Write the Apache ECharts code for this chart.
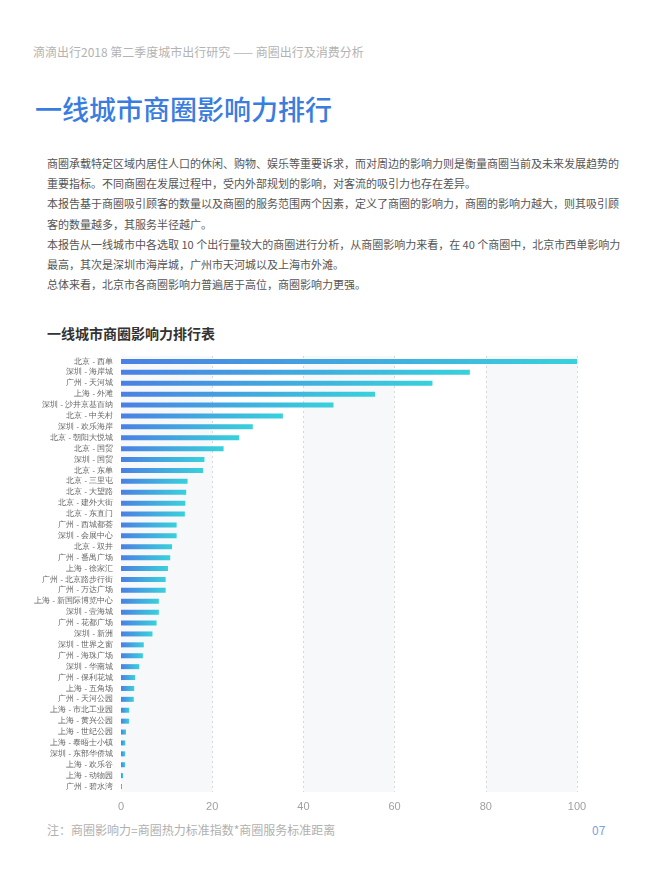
<!DOCTYPE html>
<html>
<head>
<meta charset="utf-8">
<script src="https://cdn.jsdelivr.net/npm/echarts@6/dist/echarts.min.js"></script>
<style>
  body { margin: 0; background: #fff; font-family: "Noto Sans CJK SC", "Noto Sans", sans-serif; }
  .page { position: relative; width: 650px; height: 882px; overflow: hidden; }
  .head { position: absolute; left: 33px; top: 43px; font-size: 12px; color: #b3b3b3; white-space: nowrap; }
  .title { position: absolute; left: 35px; top: 89px; font-size: 27px; color: #3a7ddf; white-space: nowrap; font-weight: 500; }
  .para { position: absolute; left: 47px; top: 153px; width: 563px; font-size: 11px; color: #555; line-height: 20.2px; }
  .para div { white-space: nowrap; }
  .para .full { text-align: justify; text-align-last: justify; }
  .sub { position: absolute; left: 47px; top: 323px; font-size: 14px; color: #333; font-weight: 700; white-space: nowrap; }
  .note { position: absolute; left: 47px; top: 821px; font-size: 12px; color: #b0b0b0; white-space: nowrap; }
  .num { position: absolute; left: 592px; top: 821px; font-size: 12px; color: #7ea3dc; }
  #chart { position: absolute; left: 0; top: 340px; width: 650px; height: 480px; }
</style>
</head>
<body>
<div class="page">
  <div class="head">滴滴出行2018 第二季度城市出行研究 —— 商圈出行及消费分析</div>
  <div class="title">一线城市商圈影响力排行</div>
  <div class="para">
    <div class="full">商圈承载特定区域内居住人口的休闲、购物、娱乐等重要诉求，而对周边的影响力则是衡量商圈当前及未来发展趋势的</div>
    <div>重要指标。不同商圈在发展过程中，受内外部规划的影响，对客流的吸引力也存在差异。</div>
    <div class="full">本报告基于商圈吸引顾客的数量以及商圈的服务范围两个因素，定义了商圈的影响力，商圈的影响力越大，则其吸引顾</div>
    <div>客的数量越多，其服务半径越广。</div>
    <div class="full">本报告从一线城市中各选取 10 个出行量较大的商圈进行分析，从商圈影响力来看，在 40 个商圈中，北京市西单影响力</div>
    <div>最高，其次是深圳市海岸城，广州市天河城以及上海市外滩。</div>
    <div>总体来看，北京市各商圈影响力普遍居于高位，商圈影响力更强。</div>
  </div>
  <div class="sub">一线城市商圈影响力排行表</div>
  <div id="chart"></div>
  <div class="note">注：商圈影响力=商圈热力标准指数*商圈服务标准距离</div>
  <div class="num">07</div>
</div>
<script type="text/javascript">
// 商圈名称（从上到下）
var districts = [
  '北京 - 西单', '深圳 - 海岸城', '广州 - 天河城', '上海 - 外滩', '深圳 - 沙井京基百纳',
  '北京 - 中关村', '深圳 - 欢乐海岸', '北京 - 朝阳大悦城', '北京 - 国贸', '深圳 - 国贸',
  '北京 - 东单', '北京 - 三里屯', '北京 - 大望路', '北京 - 建外大街', '北京 - 东直门',
  '广州 - 西城都荟', '深圳 - 会展中心', '北京 - 双井', '广州 - 番禺广场', '上海 - 徐家汇',
  '广州 - 北京路步行街', '广州 - 万达广场', '上海 - 新国际博览中心', '深圳 - 壹海城', '广州 - 花都广场',
  '深圳 - 新洲', '深圳 - 世界之窗', '广州 - 海珠广场', '深圳 - 华南城', '广州 - 保利花城',
  '上海 - 五角场', '广州 - 天河公园', '上海 - 市北工业园', '上海 - 黄兴公园', '上海 - 世纪公园',
  '上海 - 泰晤士小镇', '深圳 - 东部华侨城', '上海 - 欢乐谷', '上海 - 动物园', '广州 - 碧水湾'
];
// 商圈影响力
var influence = [
  100, 76.5, 68.3, 55.7, 46.6,
  35.5, 28.9, 25.9, 22.5, 18.3,
  18.0, 14.6, 14.3, 14.1, 14.0,
  12.2, 12.2, 11.2, 10.8, 10.3,
  9.8, 9.8, 8.3, 8.3, 7.8,
  6.9, 5.0, 4.8, 4.0, 3.1,
  2.9, 2.8, 1.8, 1.75, 1.1,
  0.95, 0.9, 0.9, 0.45, 0.2
];
var xTicks = [0, 20, 40, 60, 80, 100];

var myChart = echarts.init(document.getElementById('chart'));
var option = {
  animation: false,
  grid: { left: 121, right: 73, top: 16, bottom: 28 },
  xAxis: {
    type: 'value',
    min: xTicks[0],
    max: xTicks[xTicks.length - 1],
    interval: 20,
    axisLine: { show: false },
    axisTick: { show: false },
    axisLabel: { color: '#a0a0a0', fontSize: 11, margin: 9 },
    splitLine: {
      show: true,
      showMinLine: false,
      lineStyle: { color: '#d8d8d8', type: [2, 3], width: 1 }
    },
    splitArea: {
      show: true,
      areaStyle: { color: ['#f7f8f9', '#ffffff'] }
    }
  },
  yAxis: {
    type: 'category',
    inverse: true,
    data: districts,
    axisLine: { show: false },
    axisTick: { show: false },
    axisLabel: { color: '#666', fontSize: 7.5, margin: 8 }
  },
  series: [{
    type: 'bar',
    data: influence,
    barWidth: 5,
    itemStyle: {
      color: new echarts.graphic.LinearGradient(0, 0, 1, 0, [
        { offset: 0, color: '#4b80e3' },
        { offset: 1, color: '#38d1dc' }
      ])
    }
  }]
};
myChart.setOption(option);
</script>
</body>
</html>
